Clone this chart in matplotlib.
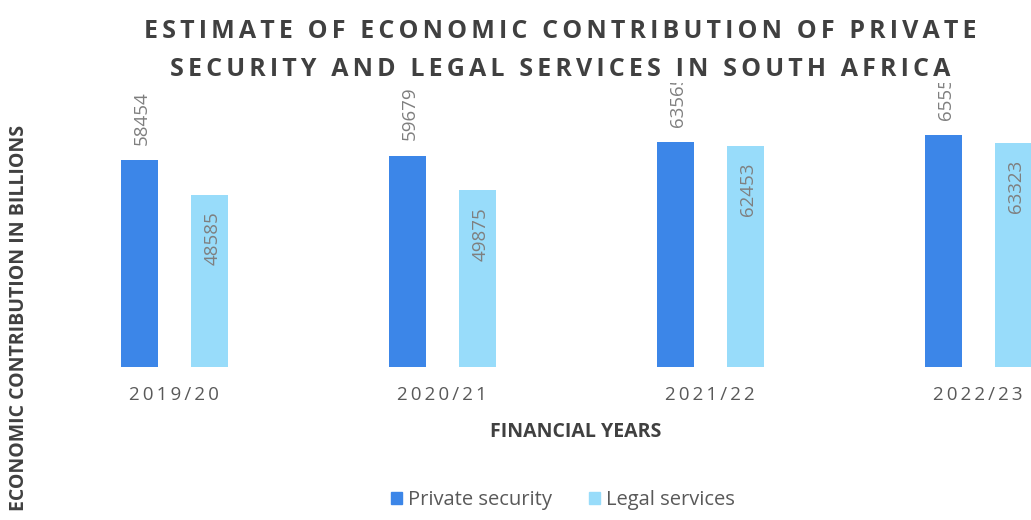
import matplotlib
matplotlib.use("Agg")
import matplotlib.pyplot as plt
from matplotlib.patches import Patch

plt.rcParams['font.family'] = ['Open Sans', 'DejaVu Sans']

# Data (contribution, in billions)
years = ["2019/20", "2020/21", "2021/22", "2022/23"]
private_security = [58454, 59679, 63565, 65555]
legal_services = [48585, 49875, 62453, 63323]
series_names = ["Private security", "Legal services"]

C_PRIVATE = "#3C86E8"
C_LEGAL = "#98DCFA"
C_TEXT = "#404040"
C_LABEL = "#7F7F7F"
C_TICK = "#595959"


def spaced(s, sep="\u2009"):
    """Widen letter spacing by interleaving narrow spaces."""
    return sep.join(s)


fig = plt.figure(figsize=(10.31, 5.2), dpi=100)
ax = fig.add_axes([0.0, 153 / 520, 1.0, 367 / 520])
ax.set_xlim(-174 / 268, (1031 - 174) / 268)
ax.set_ylim(0, 367 / 0.00354)
ax.axis("off")

x = list(range(len(years)))
w = 0.138
xp = [i - 0.129 for i in x]
xl = [i + 0.132 for i in x]
ax.bar(xp, private_security, width=w, color=C_PRIVATE, zorder=2)
ax.bar(xl, legal_services, width=w, color=C_LEGAL, zorder=2)

# Value labels: above the private bars, inside the legal bars
for xi, v in zip(xp, private_security):
    ax.annotate(str(v), xy=(xi, v), xytext=(2, 11), textcoords="offset points",
                rotation=90, ha="center", va="bottom", fontsize=13.5,
                color=C_LABEL, zorder=1)
for xi, v in zip(xl, legal_services):
    ax.annotate(str(v), xy=(xi, v), xytext=(2, -12), textcoords="offset points",
                rotation=90, ha="center", va="top", fontsize=13.5,
                color=C_LABEL, zorder=3)

# Category labels under each group
for i, lab in zip(x, years):
    ax.annotate(spaced(lab), xy=(i, 0), xytext=(0, -20), textcoords="offset points",
                ha="center", va="center", fontsize=13.5, color=C_TICK,
                annotation_clip=False)

# Title (two lines, letter-spaced)
title_lines = ["ESTIMATE OF ECONOMIC CONTRIBUTION OF PRIVATE",
               "SECURITY AND LEGAL SERVICES IN SOUTH AFRICA"]
for k, line in enumerate(title_lines):
    fig.text(560 / 1031, 1 - (31 + 38 * k) / 520, spaced(line, "\u2006"), ha="center",
             va="center", fontsize=18, fontweight="bold", color=C_TEXT, zorder=5,
             bbox=dict(boxstyle="square,pad=0.05", fc="white", ec="none"))

# Axis titles
fig.text(576 / 1031, 1 - 432 / 520, "FINANCIAL YEARS", ha="center", va="center",
         fontsize=14, fontweight="bold", color=C_TEXT)
fig.text(19 / 1031, 1 - 125 / 520, "ECONOMIC CONTRIBUTION IN BILLIONS", rotation=90,
         ha="center", va="top", fontsize=14, fontweight="bold", color=C_TEXT)

# Legend
handles = [Patch(color=C_PRIVATE, label=series_names[0]),
           Patch(color=C_LEGAL, label=series_names[1])]
fig.legend(handles=handles, loc="center", bbox_to_anchor=(563 / 1031, 1 - 500 / 520),
           ncol=2, frameon=False, fontsize=14.5, handlelength=0.55, handleheight=0.55,
           handletextpad=0.3, columnspacing=1.8, labelcolor=C_TICK)

fig.savefig("out.png", dpi=100, facecolor="white")
